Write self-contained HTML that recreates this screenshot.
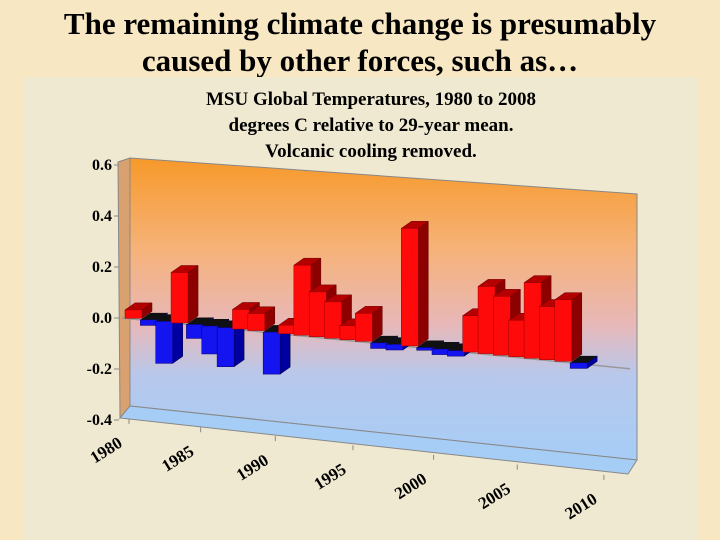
<!DOCTYPE html>
<html><head><meta charset="utf-8">
<style>
html,body{margin:0;padding:0;}
body{width:720px;height:540px;background:#f8e7c3;overflow:hidden;position:relative;font-family:"Liberation Serif",serif;}
#title{position:absolute;left:0;top:5px;width:720px;text-align:center;font-weight:bold;font-size:31px;line-height:37px;color:#000;}
#chartarea{position:absolute;left:23px;top:77px;width:674px;height:463px;background:#f0e9d1;}
svg{position:absolute;left:0;top:0;}
</style></head>
<body>
<div id="title">The remaining climate change is presumably<br>caused by other forces, such as…</div>
<div id="chartarea"></div>
<svg id="chart" width="720" height="540">
<defs>
<linearGradient id="wallg" x1="0" y1="0" x2="0" y2="1">
<stop offset="0" stop-color="#f7992a"/>
<stop offset="0.3" stop-color="#f6b278"/>
<stop offset="0.55" stop-color="#e8b8b8"/>
<stop offset="0.72" stop-color="#b8c8ec"/>
<stop offset="1" stop-color="#a6cdf6"/>
</linearGradient>
</defs>
<g font-family="Liberation Serif, serif" font-weight="bold" text-anchor="middle" font-size="19">
<text x="371" y="105">MSU Global Temperatures, 1980 to 2008</text>
<text x="371" y="131">degrees C relative to 29-year mean.</text>
<text x="371" y="157">Volcanic cooling removed.</text>
</g>
<polygon points="118,162 130,158 130,406 120,418" fill="#d9a070" stroke="#888" stroke-width="1"/>
<polygon points="130,158 637,194 637,460 130,406" fill="url(#wallg)" stroke="#888" stroke-width="1"/>
<polygon points="130,406 637,460 628,474 120,418" fill="#a6cdf6" stroke="#888" stroke-width="1"/>
<g id="yaxis"></g>
<g id="bars"></g>
<g id="xaxis"></g>
</svg>
<script>
const years = [1980,1981,1982,1983,1984,1985,1986,1987,1988,1989,1990,1991,1992,1993,1994,1995,1996,1997,1998,1999,2000,2001,2002,2003,2004,2005,2006,2007,2008,2009];
const temps = [0.03,-0.02,-0.15,0.18,-0.05,-0.10,-0.14,0.07,0.06,-0.15,0.03,0.25,0.16,0.13,0.05,0.10,-0.02,-0.02,0.42,-0.01,-0.02,-0.02,0.13,0.24,0.21,0.13,0.27,0.19,0.22,-0.02];
const yTicks = [0.6,0.4,0.2,0.0,-0.2,-0.4];
const yTickLabels = ["0.6","0.4","0.2","0.0","-0.2","-0.4"];
const xTicks = [1980,1985,1990,1995,2000,2005,2010];
const xTickLabels = ["1980","1985","1990","1995","2000","2005","2010"];

const NS = "http://www.w3.org/2000/svg";
function mk(tag, attrs, parent){const e=document.createElementNS(NS,tag);for(const k in attrs)e.setAttribute(k,attrs[k]);parent.appendChild(e);return e;}
function axisY(v){return 318 - v*255;}
function barX(i){return 125 + 15.35*i;}
function zeroY(x){return 318 + 0.1*(x-122);}
function barH(v){return v*280;}
function tickX(year){const t=year-1980;return 129 + 14.03*t + 0.06*t*t;}
function floorY(x){return 418 + 0.118*(x-122);}

const ya = document.getElementById('yaxis');
yTicks.forEach((v,k)=>{
  const y = axisY(v);
  const t = mk('text',{x:112,y:y+5,'text-anchor':'end','font-size':16,'font-weight':'bold','font-family':'Liberation Serif, serif'},ya);
  t.textContent = yTickLabels[k];
  
  
  const l = mk('line',{x1:114,y1:y,x2:119,y2:y,stroke:'#888'},ya);
  
  
});
const zl = mk('line',{x1:122,y1:zeroY(122),x2:630,y2:zeroY(630),stroke:'#999','stroke-width':1.5},ya);



const bg = document.getElementById('bars');
const W = 17, DX = 10, DY = -7;
temps.forEach((v,i)=>{
  const x = barX(i), y0 = zeroY(x);
  const g = mk('g',{},bg);
  
  
  const h = barH(v);
  if (v >= 0){
    const yt = y0 - h;
    mk('polygon',{points:`${x+W},${yt} ${x+W+DX},${yt+DY} ${x+W+DX},${y0+DY} ${x+W},${y0}`,fill:'#8c0000',stroke:'#600','stroke-width':0.5},g);
    mk('polygon',{points:`${x},${yt} ${x+DX},${yt+DY} ${x+W+DX},${yt+DY} ${x+W},${yt}`,fill:'#b40000',stroke:'#600','stroke-width':0.5},g);
    mk('rect',{x:x,y:yt,width:W,height:Math.max(h,0.5),fill:'#ff0a0a',stroke:'#900','stroke-width':0.5},g);
  } else {
    const yb = y0 - h;
    mk('polygon',{points:`${x+W},${y0} ${x+W+DX},${y0+DY} ${x+W+DX},${yb+DY} ${x+W},${yb}`,fill:'#0000a0',stroke:'#003','stroke-width':0.5},g);
    mk('polygon',{points:`${x},${y0} ${x+DX},${y0+DY} ${x+W+DX},${y0+DY} ${x+W},${y0}`,fill:'#101010'},g);
    mk('rect',{x:x,y:y0,width:W,height:-h,fill:'#1414f0',stroke:'#006','stroke-width':0.5},g);
  }
});

const xa = document.getElementById('xaxis');
xTicks.forEach((yr,k)=>{
  const x = tickX(yr), y = floorY(x);
  const l = mk('line',{x1:x,y1:y,x2:x,y2:y+5,stroke:'#888'},xa);
  
  
  const tx = x-20, ty = y+36;
  const t = mk('text',{x:tx,y:ty,'text-anchor':'middle','font-size':17,'font-weight':'bold','font-family':'Liberation Serif, serif',transform:`rotate(-32 ${tx} ${ty})`},xa);
  t.textContent = xTickLabels[k];
  
  
});
</script>
</body></html>
